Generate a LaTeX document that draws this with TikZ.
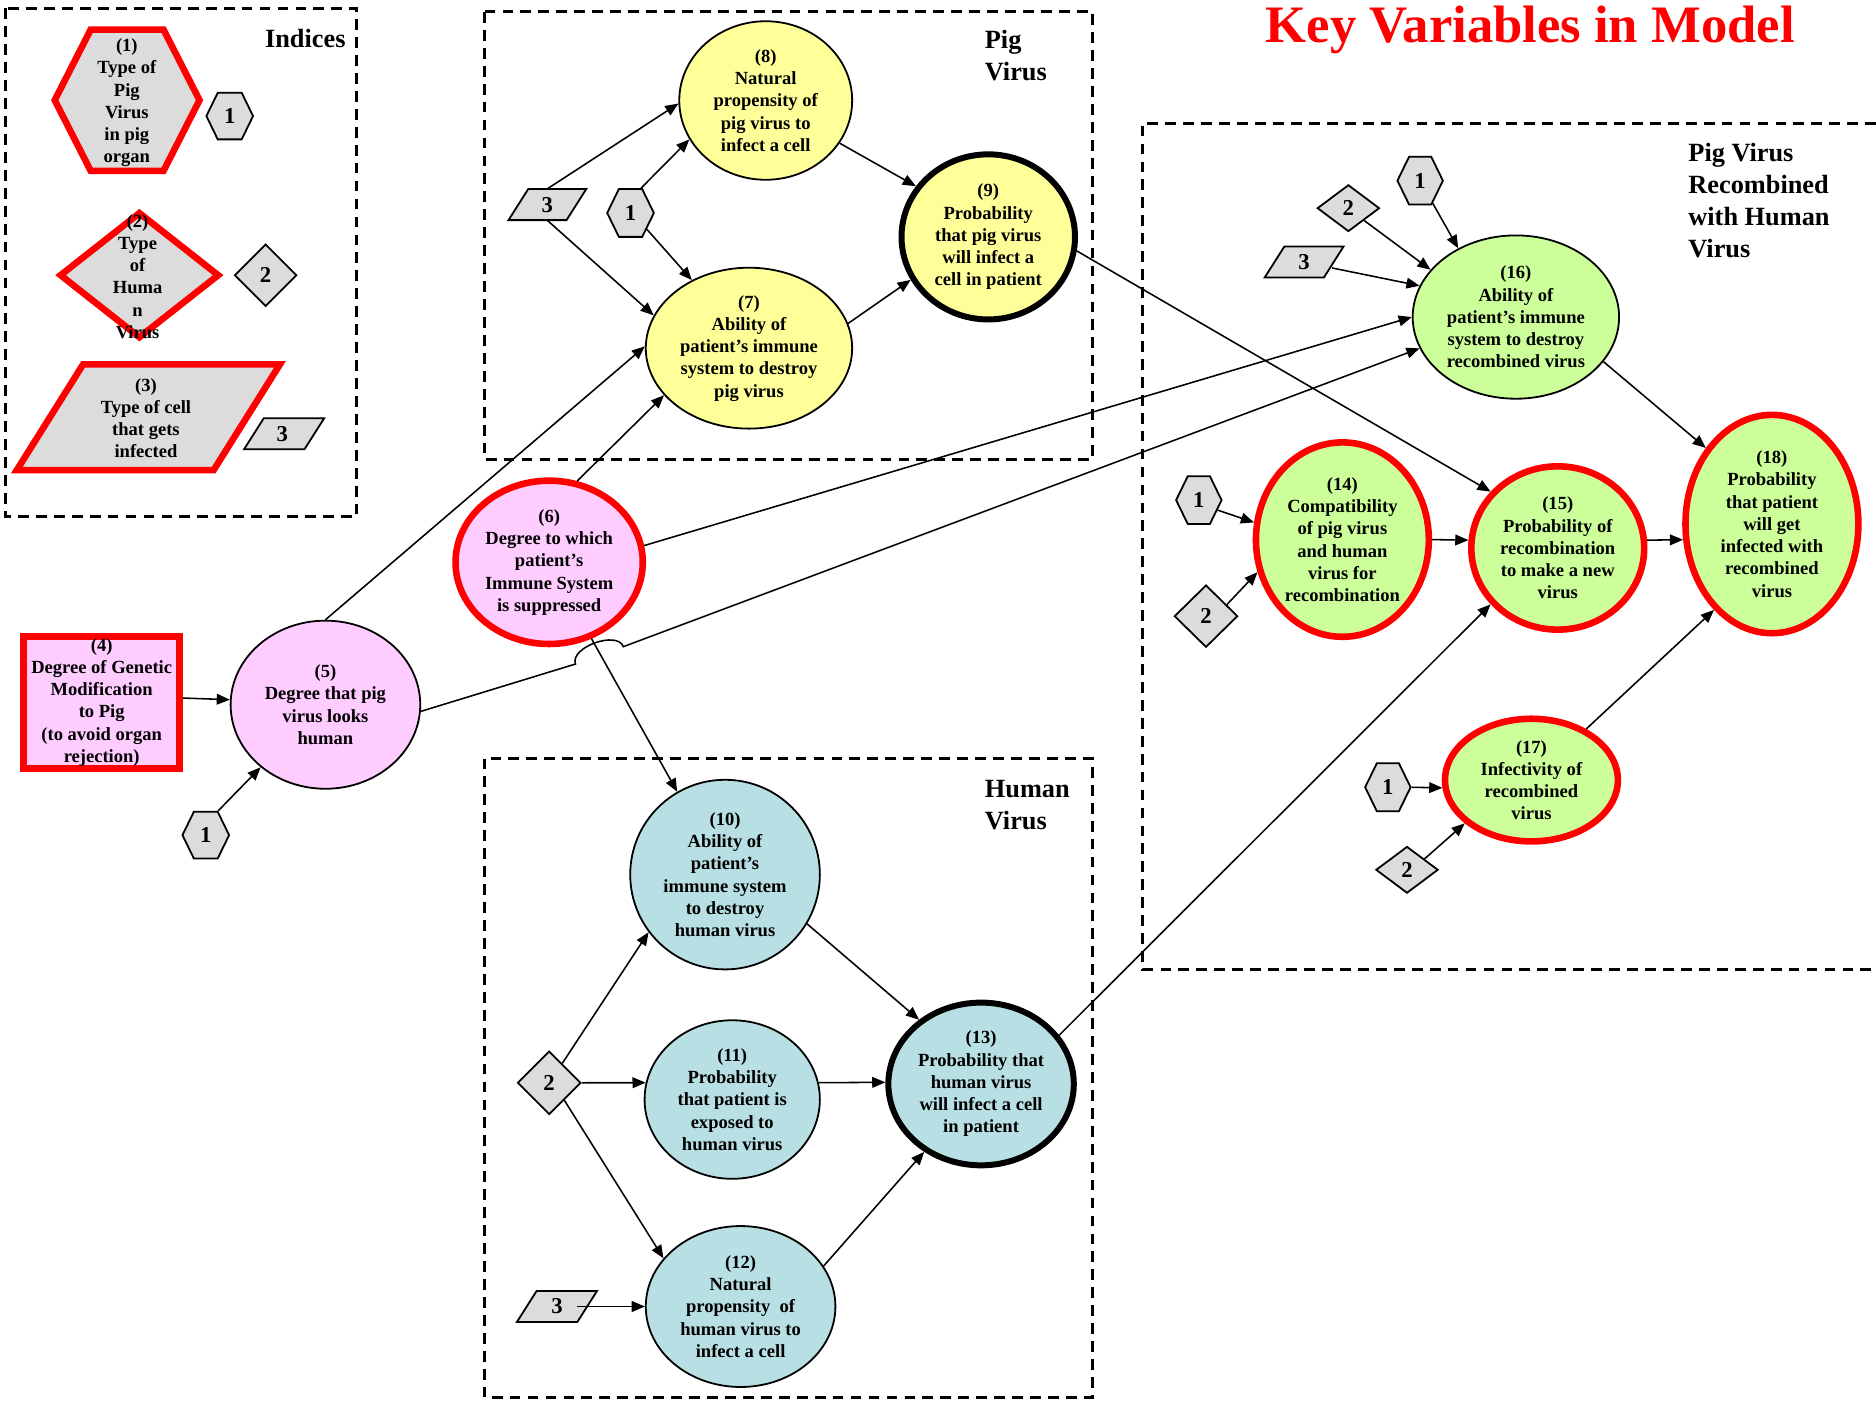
\documentclass[tikz,border=0pt]{standalone}
\usepackage{fontspec}
\setmainfont{Liberation Serif}
\usetikzlibrary{shapes.geometric,shapes.symbols,arrows.meta}
\definecolor{pigyellow}{HTML}{FFFF99}
\definecolor{pigpink}{HTML}{FFCCFF}
\definecolor{humanblue}{HTML}{B8DFE3}
\definecolor{recgreen}{HTML}{CCFF99}
\definecolor{idxgray}{HTML}{DCDCDC}
\begin{document}
\begin{tikzpicture}[x=1pt,y=-1pt,
  groupbox/.style={draw, line width=2.5pt, dash pattern=on 9pt off 6pt},
  var/.style={ellipse, draw, line width=1.5pt, inner sep=0pt},
  redline/.style={draw=red, line width=5.5pt},
  heavy/.style={draw=black, line width=5pt},
  txt/.style={font=\fontsize{15.5}{18.6}\selectfont\bfseries, align=center, inner sep=0pt},
  idxfont/.style={font=\fontsize{19}{22}\selectfont\bfseries},
  idx/.style={draw, line width=1.5pt, fill=idxgray, inner sep=0pt, idxfont},
  idxedge/.style={draw, line width=1.5pt, fill=idxgray},
  hexa/.style={shape=signal, signal to=east and west, signal pointer angle=128},
  paralabel/.style={rectangle, inner sep=0pt, minimum height=26, idxfont},
  conn/.style={-{Triangle[length=11pt,width=9pt]}, line width=1.3pt},
  grp/.style={font=\fontsize{22}{26.7}\selectfont\bfseries, align=left, inner sep=0pt}]

\useasboundingbox (0,0) rectangle (1568,1175);

% ---------------- group frames ----------------
\draw[groupbox] (5,7) rectangle (298,432);
\draw[groupbox] (405,10) rectangle (913,384);
\draw[groupbox] (405,634) rectangle (913,1168);
\draw[groupbox] (1568,103) -- (955,103) -- (955,810) -- (1568,810);

% ---------------- titles ----------------
\node[font=\fontsize{44}{50}\selectfont\bfseries, text=red, anchor=base, inner sep=0pt]
  (title) at (1279,35.7) {Key Variables in Model};
\node[grp, anchor=base east] (lidx) at (289,40) {Indices};
\node[grp, anchor=north west] (lpig) at (823,25.3) {Pig\\Virus};
\node[grp, anchor=north west] (lhum) at (823,652.3) {Human\\Virus};
\node[grp, anchor=north west] (lrec) at (1411,119.3) {Pig Virus\\Recombined\\with Human\\Virus};

% ---------------- index legend ----------------
\node[hexa, signal pointer angle=126, redline, fill=idxgray, inner sep=0.5pt,
  minimum width=121, minimum height=118] (bh) at (106.25,83.75) {};
\node[txt] (bht) at (106,86) {(1)\\Type of\\Pig\\Virus\\in pig\\organ};
\node[hexa, idx, minimum width=39, minimum height=39] (ih) at (192,97) {1};

\node[diamond, redline, fill=idxgray, inner sep=0.5pt,
  minimum width=134, minimum height=106] (bd) at (116.5,230) {};
\node[txt] (bdt) at (115,231) {(2)\\Type\\of\\Huma\\n\\Virus};
\node[diamond, idx, minimum width=52, minimum height=52] (id) at (222,230) {2};

% parallelograms: sides leaning at about 58 degrees
\draw[redline, fill=idxgray] (14,393) -- (69.5,304.5) -- (234,304.5) -- (178.5,393) -- cycle;
\node[txt] (bpt) at (122,349.5) {(3)\\Type of cell\\that gets\\infected};
\draw[idxedge] (204,375.5) -- (220.5,349.5) -- (271,349.5) -- (254.5,375.5) -- cycle;
\node[paralabel, minimum width=40] (ip) at (236,362.5) {3};

% ---------------- pig side ----------------
\node[rectangle, redline, fill=pigpink, minimum width=130.5, minimum height=110.5]
  (n4) at (85,587) {};
\node[txt] (t4) at (n4) {(4)\\Degree of Genetic\\Modification\\to Pig\\(to avoid organ\\rejection)};

\node[var, fill=pigpink, minimum width=158.5, minimum height=140.5] (n5) at (272,589) {};
\node[txt] (t5) at (n5) {(5)\\Degree that pig\\virus looks\\human};
\node[hexa, idx, minimum width=39, minimum height=39] (h1b) at (172,698) {1};

\node[var, redline, fill=pigpink, minimum width=156.5, minimum height=136.5] (n6) at (459,470) {};
\node[txt] (t6) at (n6) {(6)\\Degree to which\\patient’s\\Immune System\\is suppressed};

% ---------------- pig virus ----------------
\node[var, fill=pigyellow, minimum width=144.5, minimum height=132.5] (n8) at (640,84) {};
\node[txt] (t8) at (n8) {(8)\\Natural\\propensity of\\pig virus to\\infect a cell};
\node[var, fill=pigyellow, minimum width=172.5, minimum height=134.5] (n7) at (626,291) {};
\node[txt] (t7) at (n7) {(7)\\Ability of\\patient’s immune\\system to destroy\\pig virus};
\node[var, heavy, fill=pigyellow, minimum width=145, minimum height=138] (n9) at (826,198) {};
\node[txt] (t9) at (n9) {(9)\\Probability\\that pig virus\\will infect a\\cell in patient};
\draw[idxedge] (425,184) -- (441.5,158) -- (490,158) -- (473.5,184) -- cycle;
\node[paralabel, minimum width=40] (p3a) at (457.5,171) {3};
\node[hexa, idx, minimum width=39, minimum height=40] (h1a) at (527,178) {1};

% ---------------- human virus ----------------
\node[var, fill=humanblue, minimum width=158.5, minimum height=158.5] (n10) at (606,731) {};
\node[txt] (t10) at (n10) {(10)\\Ability of\\patient’s\\immune system\\to destroy\\human virus};
\node[var, fill=humanblue, minimum width=146.5, minimum height=132.5] (n11) at (612,919) {};
\node[txt] (t11) at (n11) {(11)\\Probability\\that patient is\\exposed to\\human virus};
\node[var, fill=humanblue, minimum width=158.5, minimum height=134.5] (n12) at (619,1092) {};
\node[txt] (t12) at (n12) {(12)\\Natural\\propensity~ of\\human virus to\\infect a cell};
\node[var, heavy, fill=humanblue, minimum width=155, minimum height=136] (n13) at (820,906) {};
\node[txt] (t13) at (n13) {(13)\\Probability that\\human virus\\will infect a cell\\in patient};
\node[diamond, idx, minimum width=53, minimum height=53] (d2a) at (459,905) {2};
\draw[idxedge] (432,1105) -- (448.5,1079) -- (499,1079) -- (482.5,1105) -- cycle;
\node[paralabel, minimum width=40] (p3b) at (465.5,1092) {3};

% ---------------- recombined virus ----------------
\node[var, fill=recgreen, minimum width=172.5, minimum height=136.5] (n16) at (1267,265) {};
\node[txt] (t16) at (n16) {(16)\\Ability of\\patient’s immune\\system to destroy\\recombined virus};
\node[var, redline, fill=recgreen, minimum width=144.5, minimum height=162.5] (n14) at (1122,451) {};
\node[txt] (t14) at (n14) {(14)\\Compatibility\\of pig virus\\and human\\virus for\\recombination};
\node[var, redline, fill=recgreen, minimum width=144.5, minimum height=136.5] (n15) at (1302,458) {};
\node[txt] (t15) at (n15) {(15)\\Probability of\\recombination\\to make a new\\virus};
\node[var, redline, fill=recgreen, minimum width=144.5, minimum height=182.5] (n18) at (1481,438) {};
\node[txt] (t18) at (n18) {(18)\\Probability\\that patient\\will get\\infected with\\recombined\\virus};
\node[var, redline, fill=recgreen, minimum width=144.5, minimum height=102.5] (n17) at (1280,652) {};
\node[txt] (t17) at (n17) {(17)\\Infectivity of\\recombined\\virus};

\node[hexa, idx, minimum width=38, minimum height=40] (h1c) at (1187,151) {1};
\node[diamond, idx, minimum width=52, minimum height=39] (d2b) at (1127,174) {2};
\draw[idxedge] (1057,232) -- (1073.5,206) -- (1123,206) -- (1106.5,232) -- cycle;
\node[paralabel, minimum width=46] (p3c) at (1090,219) {3};
\node[hexa, idx, minimum width=38, minimum height=40] (h1d) at (1002,418) {1};
\node[diamond, idx, minimum width=53, minimum height=52] (d2c) at (1008,515) {2};
\node[hexa, idx, minimum width=38, minimum height=40] (h1e) at (1160,658) {1};
\node[diamond, idx, minimum width=52, minimum height=39] (d2d) at (1176,727) {2};

% ---------------- influences ----------------
\draw[conn] (n4.3) -- (n5.177);
\draw[conn] (h1b.63) -- (n5.224);
\draw[conn] (n5.90) -- (n7.179);
\draw[conn] (n6.71) -- (n7.209);
\draw[conn] (n6.10) -- (n16.180);
\coordinate (hopA) at (481,555);
\coordinate (hopB) at (521,540.5);
\draw[conn] (n5.-4) -- (hopA) .. controls (476,541) and (516,526.7) .. (hopB) -- (n16.198);
\draw[conn] (n6.-61) -- (n10.120);

\draw[conn] (p3a.north) -- (n8.182);
\draw[conn] (p3a.south) -- (n7.161);
\draw[conn] (h1a.67) -- (n8.207);
\draw[conn] (h1a.-45) -- (n7.130);
\draw[conn] (n8.-30) -- (n9.145);
\draw[conn] (n7.14) -- (n9.209);
\draw[conn] (n9.-9) -- (n15.140);

\draw[conn] (d2a.56) -- (n10.217);
\draw[conn] (d2a.east) -- (n11.169);
\draw[conn] (d2a.-49) -- (n12.148);
\draw[conn] ([xshift=17pt]p3b.center) -- (n12.180);
\draw[conn] (n10.-31) -- (n13.134);
\draw[conn] (n11.11) -- (n13.179);
\draw[conn] (n12.26) -- (n13.230);
\draw[conn] (n13.32) -- (n15.220);

\draw[conn] (h1c.-61) -- (n16.130);
\draw[conn] (d2b.-38) -- (n16.151);
\draw[conn] (p3c.-12) -- (n16.162);
\draw[conn] (n16.-27) -- (n18.131);
\draw[conn] (h1d.-28) -- (n14.169);
\draw[conn] (d2c.29) -- (n14.201);
\draw[conn] (n14.0) -- (n15.175);
\draw[conn] (n15.5) -- (n18.190);
\draw[conn] (n17.43) -- (n18.236);
\draw[conn] (h1e.east) -- (n17.185);
\draw[conn] (d2d.32) -- (n17.213);
\end{tikzpicture}
\end{document}
